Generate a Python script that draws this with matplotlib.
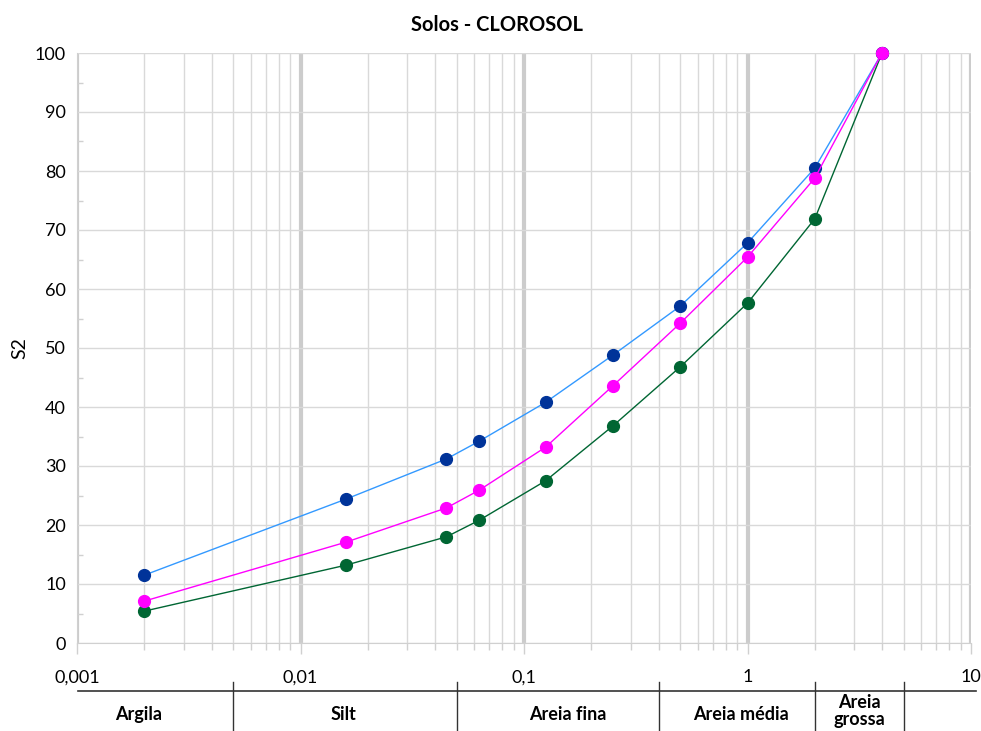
import matplotlib.pyplot as plt
import matplotlib.transforms as mtransforms
from matplotlib.ticker import LogLocator, FixedLocator, FixedFormatter, MultipleLocator, NullFormatter

plt.rcParams['font.family'] = ['Lato', 'DejaVu Sans']

# grain size (mm) and cumulative percentages
diam = [0.002, 0.016, 0.045, 0.063, 0.125, 0.25, 0.5, 1, 2, 4]
s_blue = [11.5, 24.4, 31.2, 34.2, 40.8, 48.8, 57.1, 67.8, 80.5, 100]
s_magenta = [7.1, 17.1, 22.9, 25.9, 33.2, 43.6, 54.2, 65.4, 78.8, 100]
s_green = [5.4, 13.2, 18.0, 20.8, 27.5, 36.8, 46.8, 57.6, 71.9, 100]

xticks = [0.001, 0.01, 0.1, 1, 10]
xtick_labels = ['0,001', '0,01', '0,1', '1', '10']

# classification bands
class_bounds = [0.005, 0.05, 0.4, 2, 5]
class_names = ['Argila', 'Silt', 'Areia fina', 'Areia média', 'Areia\ngrossa']
class_label_x = [0.00188, 0.0155, 0.157, 0.935, 3.18]

fig = plt.figure(figsize=(9.81, 7.31), dpi=100)
ax = fig.add_axes([77/981, 1 - 643/731, (971-77)/981, (643-53)/731])

ax.set_xscale('log')
ax.set_xlim(0.001, 10)
ax.set_ylim(0, 100)

# grid
ax.xaxis.set_major_locator(FixedLocator(xticks))
ax.xaxis.set_major_formatter(FixedFormatter(xtick_labels))
ax.xaxis.set_minor_locator(LogLocator(base=10, subs=range(2, 10), numticks=20))
ax.xaxis.set_minor_formatter(NullFormatter())
ax.yaxis.set_major_locator(MultipleLocator(10))
ax.yaxis.set_minor_locator(MultipleLocator(5))
ax.grid(which='major', axis='x', color='#cccccc', lw=3, zorder=0)
ax.grid(which='minor', axis='x', color='#d9d9d9', lw=1, zorder=0)
ax.grid(which='major', axis='y', color='#d9d9d9', lw=1, zorder=0)
ax.set_axisbelow(True)

for sp in ['top', 'right']:
    ax.spines[sp].set_visible(False)
ax.spines['left'].set_color('#d0d0d0')
ax.spines['bottom'].set_color('#d0d0d0')

ax.tick_params(axis='x', which='major', direction='out', length=8, color='#d0d0d0', width=1,
               labelsize=13, pad=11)
ax.tick_params(axis='x', which='minor', direction='out', length=5, color='#d0d0d0', width=1)
ax.tick_params(axis='y', which='major', direction='out', length=0, labelsize=13, pad=8)
ax.tick_params(axis='y', which='minor', direction='in', length=4, color='#d0d0d0', width=1)

ax.plot(diam, s_green, color='#006633', lw=1, marker='o', ms=8.5,
        mfc='#006633', mec='#006633', zorder=3, clip_on=False)
ax.plot(diam, s_blue, color='#3399ff', lw=1, marker='o', ms=8.5,
        mfc='#003399', mec='#003399', zorder=3, clip_on=False)
ax.plot(diam, s_magenta, color='#ff00ff', lw=1, marker='o', ms=8.5,
        mfc='#ff00ff', mec='#ff00ff', zorder=3, clip_on=False)

fig.text(497/981, 1 - 25/731, 'Solos - CLOROSOL', ha='center', va='center',
         fontsize=14.5, fontweight='bold')
fig.text(20/981, 1 - 348/731, 'S2', ha='center', va='center', rotation=90, fontsize=14)

# classification band below axis
trans = mtransforms.blended_transform_factory(ax.transData, ax.transAxes)
ax.plot([0.00101, 10.5], [-0.0814, -0.0814], color='#333333', lw=1.2, transform=trans,
        clip_on=False, zorder=5)
for b in class_bounds:
    ax.plot([b, b], [-0.066, -0.16], color='#333333', lw=1, transform=trans,
            clip_on=False, zorder=5)
for name, lx in zip(class_names, class_label_x):
    if '\n' in name:
        ax.text(lx, -0.087, name, transform=trans, ha='center', va='top', fontsize=13,
                fontweight='bold', linespacing=1.0)
    else:
        ax.text(lx, -0.122, name, transform=trans, ha='center', va='center', fontsize=13,
                fontweight='bold')

fig.savefig('out.png', dpi=100)
